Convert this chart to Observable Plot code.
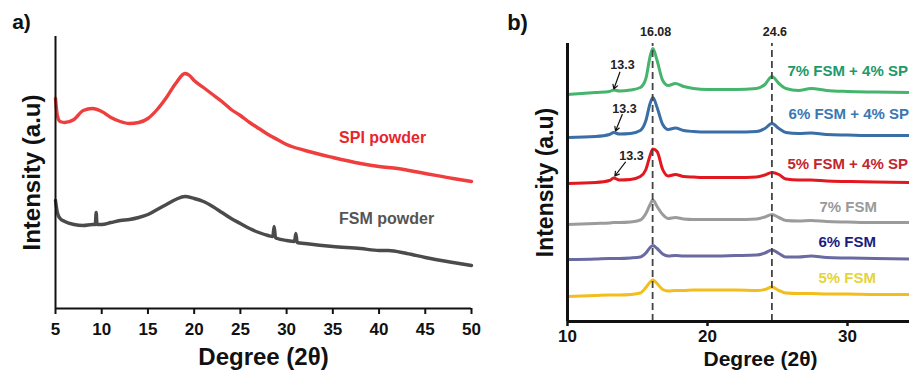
<!DOCTYPE html>
<html>
<head>
<meta charset="utf-8">
<script src="https://cdn.jsdelivr.net/npm/d3@7"></script>
<script src="https://cdn.jsdelivr.net/npm/@observablehq/plot@0.6"></script>
<style>
  html, body { margin: 0; padding: 0; background: #fff; }
  #wrap { position: relative; width: 909px; height: 371px; overflow: hidden; background: #fff; }
  #wrap svg { position: absolute; top: 0; overflow: visible; }
</style>
</head>
<body>
<div id="wrap"></div>
<script>
// ---------- Panel a: powders ----------
const aTicks = [5, 10, 15, 20, 25, 30, 35, 40, 45, 50];
const spiDeg = [5, 5.2, 5.5, 6, 7, 8, 9, 10, 11, 12, 13, 14, 15, 16, 17, 18, 19, 19.5, 20, 21, 22, 23, 24, 25, 26, 27, 28, 29, 30, 32, 35, 38, 40, 42, 45, 48, 50];
const spiInt = [210, 193, 187, 186, 189, 198, 200, 197, 191, 187, 185, 186, 190, 199, 211, 225, 235, 233, 228, 221, 214, 207, 199, 193, 186, 180, 174, 169, 164, 158, 151, 145, 142, 140, 135, 130, 127];
const fsmDeg = [5, 5.2, 5.5, 6, 7, 8, 9, 9.3, 9.4, 9.5, 10, 11, 12, 13, 14, 15, 16, 17, 18, 19, 20, 21, 22, 23, 24, 25, 26, 27, 28, 28.5, 28.65, 28.8, 29, 30, 30.85, 31.0, 31.15, 32, 35, 38, 40, 41, 43, 45, 48, 50];
const fsmInt = [108, 96, 90, 87, 84, 83, 84, 84, 96, 84, 84, 86, 88, 89, 91, 94, 99, 104, 109, 112, 110, 107, 102, 96, 90, 85, 80, 76, 73, 72, 82, 71, 70, 68, 67, 75, 66, 65, 62, 60, 58, 58, 55, 51, 46, 43];
const aLabels = ["SPI powder", "FSM powder"];

// ---------- Panel b: films ----------
const bTicks = [10, 20, 30];
const bDeg = [10, 12, 13, 13.3, 13.7, 14.5, 15.2, 15.6, 15.9, 16.1, 16.4, 16.8, 17.2, 17.7, 18.3, 19, 20, 22, 23.5, 24.1, 24.6, 25.1, 25.6, 26.5, 27.4, 28.5, 30, 32, 35];
const fsm7sp4 = [227, 229, 230, 231.5, 230.5, 231.5, 234, 243, 265, 273, 261, 241, 236, 238, 235, 233, 232, 232, 233, 237, 245, 238, 233, 231, 233, 231, 230, 229.5, 229];
const fsm6sp4 = [184, 185, 187, 189, 187.5, 188, 191, 201, 218, 224, 214, 197, 192, 193.5, 191, 190, 189.5, 189.5, 190, 193, 198, 193, 189, 188, 188.5, 187, 186.5, 186, 186];
const fsm5sp4 = [138, 139, 141, 143.5, 141.5, 142, 145, 152, 166, 172.5, 170, 152, 145.5, 147, 145, 144.5, 144, 144, 144.5, 146.5, 149, 147, 142.5, 141.5, 141.5, 140.5, 140, 139.5, 139];
const fsm7 = [97, 98, 98.5, 99, 99, 99.5, 101.5, 108, 117, 121.5, 115, 107, 103, 104, 102.5, 102, 102, 102, 102.5, 104.5, 107, 104, 101, 100.5, 101, 100, 99.5, 99, 99];
const fsm6 = [62, 62.5, 63, 63, 63, 63.5, 64.5, 68.5, 74, 76, 73, 67.5, 65.5, 66, 65.5, 65.5, 65.5, 66, 66.5, 68.5, 71.5, 68, 64.5, 64.5, 65.5, 64, 63.5, 63, 62.5];
const fsm5 = [25, 26, 26.5, 26.5, 26.5, 27, 28.5, 34, 39.5, 41.5, 38, 32, 30.5, 31, 31, 31.5, 31.5, 31.5, 31, 32, 34.5, 31, 28.5, 28, 28, 27.5, 27.5, 27, 27];
const bSeries = ["7% FSM + 4% SP", "6% FSM + 4% SP", "5% FSM + 4% SP", "7% FSM", "6% FSM", "5% FSM"];
const peakPositions = [16.08, 24.6];
const peakLabels = ["16.08", "24.6"];
const shoulderLabel = "13.3";

// ---------- styling ----------
const BOLD = "'Liberation Sans', Arial, sans-serif";
const NARROW = "'Liberation Sans Narrow', 'Arial Narrow', 'Liberation Sans', Arial, sans-serif";
const wrap = document.getElementById("wrap");

const toRows = (xs, ys) => xs.map((x, i) => ({x, y: ys[i]}));

// Panel a
const plotA = Plot.plot({
  width: 490, height: 371,
  marginLeft: 55, marginRight: 19, marginTop: 36, marginBottom: 63,
  style: {fontFamily: BOLD, fontWeight: "bold", background: "transparent", color: "#111"},
  x: {domain: [5, 50], label: null},
  y: {domain: [0, 272], axis: null},
  marks: [
    Plot.line(toRows(spiDeg, spiInt), {x: "x", y: "y", stroke: "#ef3e3e", strokeWidth: 3.4, curve: "monotone-x"}),
    Plot.line(toRows(fsmDeg, fsmInt), {x: "x", y: "y", stroke: "#4b4b4b", strokeWidth: 3.4, curve: "monotone-x"}),
    Plot.ruleX([5], {stroke: "#111", strokeWidth: 2}),
    Plot.ruleY([0], {stroke: "#111", strokeWidth: 2.2}),
    Plot.axisX({ticks: aTicks, tickFormat: d => String(d), tickSize: 6, tickPadding: 8, strokeWidth: 2, fontSize: 17, fontWeight: "bold", fontFamily: NARROW, label: null}),
    Plot.text([aLabels[0]], {x: 36, y: 171, text: d => d, fill: "#e8262a", fontSize: 16, fontWeight: "bold", textAnchor: "start", dx: -3}),
    Plot.text([aLabels[1]], {x: 36, y: 90, text: d => d, fill: "#555", fontSize: 16, fontWeight: "bold", textAnchor: "start", dx: -3}),
    Plot.text(["Degree (2θ)"], {frameAnchor: "bottom", lineAnchor: "middle", dy: 49, fontSize: 24, fontWeight: "bold", fill: "#111"}),
    Plot.text(["Intensity (a.u)"], {frameAnchor: "left", lineAnchor: "middle", rotate: -90, dx: -23, textAnchor: "middle", fontSize: 24, fontWeight: "bold", fill: "#111"}),
    Plot.text(["a)"], {frameAnchor: "top-left", lineAnchor: "middle", dx: -34, dy: -14, textAnchor: "middle", fontSize: 21, fontWeight: "bold", fill: "#111"})
  ]
});
plotA.style.left = "0px";
wrap.appendChild(plotA);

// Panel b
const bColors = ["#45b46d", "#3a6ea6", "#e2171f", "#9b9b9b", "#6a6aa2", "#f4bd1e"];
const bTextColors = ["#20996a", "#3a78b5", "#c3252d", "#9a9a9a", "#1b1b7e", "#e5d43a"];
const bValues = [fsm7sp4, fsm6sp4, fsm5sp4, fsm7, fsm6, fsm5];
const bLabelPos = [
  {x: 25.71, y: 250}, {x: 25.79, y: 207.5}, {x: 25.71, y: 157.5},
  {x: 28.0, y: 114}, {x: 27.93, y: 79.5}, {x: 27.93, y: 43.5}
];
const arrows = [
  {x1: 13.74, y1: 249.3, x2: 13.31, y2: 232.5, tx: 13.93, ty: 256.5},
  {x1: 13.91, y1: 207, x2: 13.43, y2: 190.5, tx: 14.07, ty: 213},
  {x1: 14.14, y1: 159.3, x2: 13.38, y2: 145.5, tx: 14.57, ty: 166}
];

const bMarks = [];
bValues.forEach((vals, i) => {
  bMarks.push(Plot.line(toRows(bDeg, vals), {x: "x", y: "y", stroke: bColors[i], strokeWidth: 3, curve: "monotone-x", clip: true}));
});
bMarks.push(
  Plot.ruleX(peakPositions, {y1: 0, y2: 278, stroke: "#444", strokeWidth: 1.8, strokeDasharray: "7,4"}),
  Plot.text(peakLabels, {x: (d, i) => peakPositions[i], y: 289.5, text: d => d, dx: 3, fontSize: 12.5, fontWeight: "bold", fill: "#222"}),
  Plot.arrow(arrows, {x1: "x1", y1: "y1", x2: "x2", y2: "y2", bend: 0, headLength: 6, stroke: "#111", strokeWidth: 1.2}),
  Plot.text(arrows, {x: "tx", y: "ty", text: () => shoulderLabel, fontSize: 12.5, fontWeight: "bold", fill: "#222"}),
  Plot.text(bSeries, {x: (d, i) => bLabelPos[i].x, y: (d, i) => bLabelPos[i].y, text: d => d, fill: (d, i) => bTextColors[i], fontSize: 15, fontWeight: "bold", textAnchor: "start"}),
  Plot.ruleX([10], {stroke: "#111", strokeWidth: 3}),
  Plot.ruleY([0], {stroke: "#111", strokeWidth: 3}),
  Plot.axisX({ticks: bTicks, tickFormat: d => String(d), tickSize: 5, tickPadding: 3, strokeWidth: 2.5, fontSize: 17, fontWeight: "bold", fontFamily: NARROW, label: null}),
  Plot.text(["Degree (2θ)"], {frameAnchor: "bottom", lineAnchor: "middle", dx: 22, dy: 38, fontSize: 21, fontWeight: "bold", fill: "#111"}),
  Plot.text(["Intensity (a.u)"], {frameAnchor: "left", lineAnchor: "middle", rotate: -90, dx: -22, textAnchor: "middle", fontSize: 23, fontWeight: "bold", fill: "#111"}),
  Plot.text(["b)"], {frameAnchor: "top-left", lineAnchor: "middle", dx: -50, dy: -21, textAnchor: "middle", fontSize: 22, fontWeight: "bold", fill: "#111"})
);

const plotB = Plot.plot({
  width: 419, height: 371,
  marginLeft: 77, marginRight: 0, marginTop: 43, marginBottom: 50,
  style: {fontFamily: BOLD, fontWeight: "bold", background: "transparent", color: "#111"},
  x: {domain: [10, 10 + 342 / 14], label: null},
  y: {domain: [0, 278], axis: null},
  marks: bMarks
});
plotB.style.left = "490px";
wrap.appendChild(plotB);
</script>
</body>
</html>
